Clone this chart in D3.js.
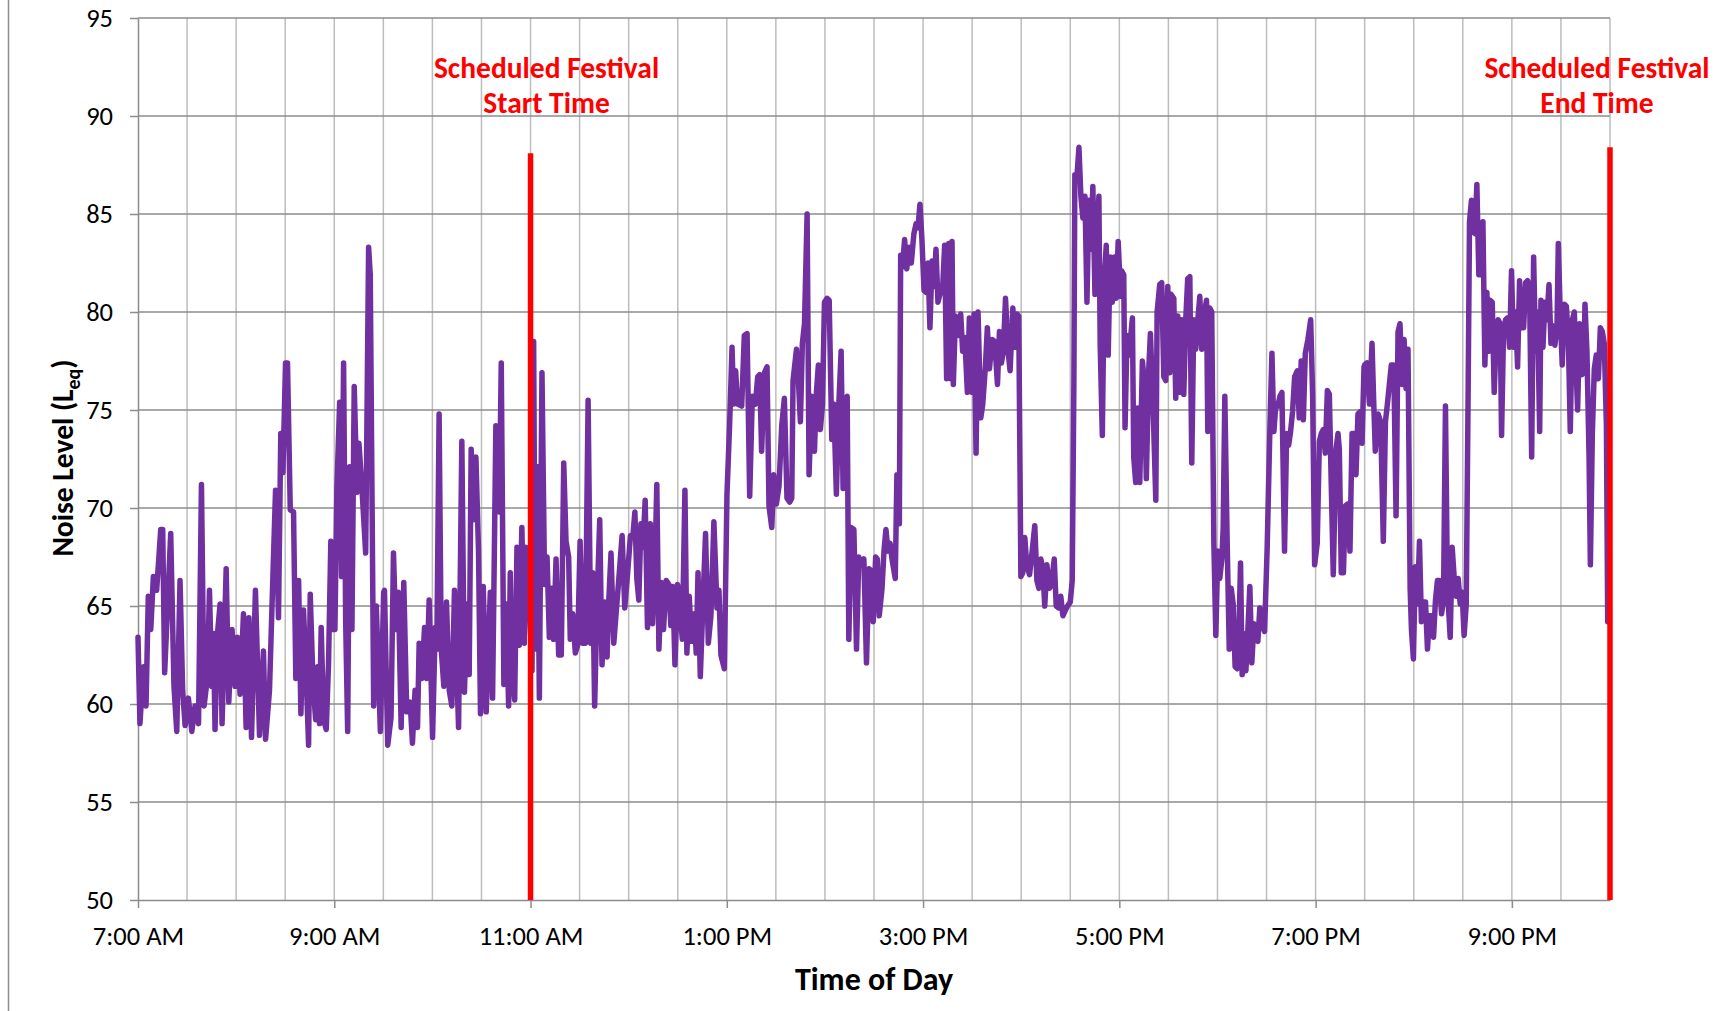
<!DOCTYPE html>
<html>
<head>
<meta charset="utf-8">
<script src="https://cdn.jsdelivr.net/npm/d3@7"></script>
<style>
  body { margin: 0; background: #fff; }
  svg text { font-family: Carlito, Calibri, Lato, sans-serif; }
</style>
</head>
<body>
<div id="chart"></div>
<script>
// Noise readings, [minutes after 7:00 AM, Leq dB]
var block1 = [[0,63.4],[1.2,59.0],[3.3,61.9],[4.9,59.9],[6.3,65.5],[7.8,63.8],[9.4,66.5],[11.4,65.8],[13.9,68.9],[15.1,68.9],[16.3,61.6],[20.0,68.7],[22.0,60.9],[23.7,58.6],[25.7,66.3],[27.3,60.7],[28.8,58.9],[30.8,60.3],[32.9,58.6],[34.9,59.9],[37.0,59.0],[38.8,71.2],[40.4,59.9],[42.4,61.3],[43.7,65.8],[45.1,60.9],[46.1,63.6],[47.1,58.7],[48.6,63.6],[50.2,65.1],[51.4,59.0],[52.6,62.8],[53.9,66.9],[55.5,60.1],[57.5,63.8],[59.4,60.9],[60.8,63.4],[62.4,60.5],[64.5,64.6],[66.1,58.8],[67.8,64.4],[69.4,58.3],[71.8,65.8],[74.3,58.4],[76.7,62.7],[78.0,58.2],[80.4,60.7],[82.4,66.3],[84.1,70.9],[85.9,64.4],[87.3,73.8],[88.6,71.8],[90.2,77.4],[91.4,77.4],[93.1,69.9],[95.1,69.8],[96.5,61.3],[98.2,66.3],[99.6,59.5],[101.2,64.8],[102.9,61.3],[104.3,57.9],[105.3,65.6],[107.0,61.1],[108.6,59.2],[109.8,61.9],[111.0,59.0],[112.0,63.9],[113.5,59.2],[115.1,58.7],[116.5,62.1],[117.9,68.3],[119.2,63.8],[120.4,63.8],[121.6,71.0],[123.3,75.4],[124.5,66.5],[125.7,77.4],[127.0,64.1],[128.2,58.6],[129.4,72.1],[130.8,63.8],[132.2,76.2],[133.9,70.8],[135.1,73.3],[137.0,70.9],[139.2,67.7],[141.0,83.3],[142.0,81.9],[144.1,59.9],[145.7,65.0],[148.2,58.6],[150.2,65.7]];
var block2 = [[150.7,65.8],[152.7,57.9],[154.7,59.3],[156.2,67.7],[157.6,63.8],[159.2,65.7],[160.9,58.8],[162.5,66.2],[164.3,59.6],[166.4,60.1],[167.8,58.0],[169.4,60.7],[170.9,58.8],[171.9,63.1],[173.5,61.3],[175.2,63.9],[176.6,61.3],[178.0,65.3],[180.1,58.3],[181.7,63.9],[182.7,62.8],[184.1,74.8],[185.4,62.8],[187.0,60.9],[188.6,65.2],[190.3,60.7],[191.9,59.9],[193.5,65.8],[194.5,63.0],[196.0,58.8],[198.0,73.4],[199.6,60.6],[201.1,65.1],[202.5,61.5],[203.7,73.0],[205.2,69.4],[206.6,72.6],[208.2,67.8],[209.4,59.5],[211.1,66.0],[212.9,59.6],[215.4,65.7],[216.8,60.3],[218.8,74.2],[220.9,69.8],[222.1,77.4],[223.7,61.0],[225.2,65.1],[226.6,59.9],[227.6,66.7],[228.6,61.7],[230.3,60.2],[231.7,68.0],[233.1,63.0],[234.7,69.0],[236.2,63.1],[237.2,68.0],[239.0,66.0],[240.9,61.7],[241.9,78.5],[242.9,62.8],[244.1,72.1],[245.4,60.3],[247.0,76.9],[248.6,66.1],[250.1,67.5],[251.5,63.4],[253.1,65.9],[254.1,63.3],[255.6,67.4],[257.2,62.5],[258.8,62.5],[260.3,72.3],[261.7,68.3],[263.3,67.5],[264.3,63.3],[265.8,64.6],[267.4,62.6],[268.8,63.0],[270.3,68.3],[271.9,63.1],[273.5,63.1],[275.2,75.5],[276.8,63.1],[278.0,66.7],[279.2,59.9],[280.7,65.2],[282.3,69.4],[283.7,62.0],[285.4,65.2],[286.8,62.4],[287.8,65.2],[289.2,67.7],[290.9,63.1],[292.3,64.6],[294.0,66.4],[296.0,68.6],[297.6,64.9],[299.0,66.3],[301.1,68.6]];
var block3 = [[302.6,68.6],[303.8,69.8],[305.0,66.4],[306.2,65.3],[307.5,69.2],[308.7,68.0],[310.1,70.4],[311.5,63.9],[313.2,69.2],[314.6,64.1],[316.0,66.9],[317.2,71.2],[318.5,62.8],[320.1,66.2],[321.3,63.8],[323.0,66.3],[324.6,66.1],[325.8,64.0],[327.0,66.0],[328.3,62.0],[329.9,66.1],[331.5,64.6],[332.8,63.3],[334.4,70.9],[335.6,62.6],[337.0,65.5],[338.5,63.2],[340.1,64.6],[341.3,62.6],[342.4,66.7],[343.8,61.4],[345.4,65.1],[347.0,68.7],[348.7,63.1],[350.3,64.5],[352.1,69.3],[354.0,64.9],[355.2,65.8],[356.4,62.5],[358.5,61.8],[360.1,70.7],[361.7,74.2],[363.2,78.2],[364.2,75.3],[365.4,77.0],[366.6,75.3],[369.1,75.2],[370.7,78.8],[372.4,78.9],[374.0,70.6],[375.6,75.7],[377.5,75.3],[378.9,76.7],[380.1,76.8],[381.3,72.9],[383.0,76.9],[384.6,77.2],[385.8,70.1],[387.5,69.0],[388.7,71.7],[390.3,70.2],[391.9,71.1],[393.6,74.2],[395.2,75.6],[396.8,70.5],[398.5,70.3],[399.7,70.5],[400.5,76.5],[402.6,78.1],[403.8,76.5],[405.0,74.4],[406.2,78.4],[407.5,79.4],[409.1,85.0],[410.3,71.7],[411.9,75.7],[413.6,72.9],[414.8,75.9],[416.0,77.3],[417.2,74.0],[418.5,75.3],[419.7,80.5],[421.3,80.7],[422.6,80.6],[424.2,73.5],[425.4,75.3],[427.0,70.7],[428.5,75.3],[429.9,78.0],[431.1,71.0],[432.6,75.5],[433.6,75.7],[434.6,63.3],[436.0,69.0],[437.7,68.9],[439.3,62.8],[440.7,67.5],[442.1,67.1],[443.8,67.4],[445.4,62.1],[447.0,66.9],[448.3,66.8],[449.5,64.2],[451.0,67.5]];
var block4 = [[452.0,67.4],[453.2,64.5],[454.9,65.9],[456.1,67.8],[457.3,68.9],[458.5,67.8],[459.8,68.2],[461.0,67.4],[463.0,66.4],[464.0,71.7],[465.5,69.2],[466.3,82.9],[467.5,82.3],[468.7,83.7],[470.0,82.2],[471.6,83.3],[472.8,82.5],[474.4,84.0],[475.7,84.5],[476.9,84.3],[478.1,85.5],[479.3,83.7],[480.6,81.1],[481.8,81.0],[483.0,82.5],[484.2,79.2],[485.5,82.6],[486.7,81.3],[487.9,83.2],[489.1,80.5],[490.6,81.0],[492.0,81.3],[493.2,83.4],[494.4,76.6],[495.7,83.5],[496.9,76.6],[497.7,83.6],[498.5,76.3],[499.8,79.8],[501.4,78.8],[503.0,79.9],[504.2,78.0],[505.5,78.7],[507.1,75.9],[508.3,79.7],[510.0,75.9],[511.2,79.9],[512.4,72.8],[513.6,80.0],[515.3,74.6],[516.5,75.3],[518.1,77.2],[519.3,79.2],[520.6,77.1],[522.2,78.6],[523.8,78.5],[525.5,76.3],[526.7,79.0],[527.9,77.4],[529.1,78.0],[530.4,80.7],[532.0,78.0],[533.2,77.0],[534.9,80.2],[536.1,78.2],[537.3,79.9],[538.5,79.8],[539.8,66.5],[541.0,66.7],[542.2,68.5],[543.4,67.1],[545.1,66.6],[546.7,67.8],[548.3,69.1],[549.6,66.3],[550.8,65.9],[552.0,67.4],[553.2,66.9],[554.4,65.0],[555.7,67.1],[557.3,65.9],[558.5,66.1],[560.2,67.4],[561.4,65.0],[563.0,64.9],[564.2,65.5],[565.5,64.5],[567.1,64.8],[568.3,65.0],[570.0,65.2],[571.2,66.3],[572.2,76.3],[572.8,87.0],[574.0,86.8],[575.3,88.4],[576.5,85.9],[577.7,84.8],[579.0,85.9],[580.2,80.5],[581.4,85.7],[582.6,83.2],[583.8,86.4],[585.1,80.9],[586.3,83.8],[587.5,85.9],[588.3,78.3],[589.6,73.7],[590.8,81.7],[592.0,83.4],[593.2,77.8],[594.4,82.8],[595.7,80.5],[596.9,82.8],[598.1,80.7],[599.3,83.6],[600.8,80.8]];
var block5 = [[601.4,82.1],[602.7,81.9],[603.5,74.1],[604.7,78.8],[605.9,77.8],[608.0,79.7],[608.8,72.6],[610.0,71.3],[611.2,75.1],[612.5,71.3],[614.1,77.5],[615.3,76.4],[616.5,71.5],[618.0,77.1],[619.0,78.9],[620.6,75.3],[622.3,70.4],[623.1,80.0],[624.7,81.4],[625.9,81.5],[627.2,76.7],[628.4,76.5],[629.6,81.3],[630.8,76.9],[631.6,80.9],[633.3,80.7],[634.5,75.6],[635.7,79.8],[636.9,75.9],[638.2,79.6],[639.4,75.8],[640.6,79.6],[641.8,81.7],[643.1,81.8],[644.3,72.3],[645.5,79.6],[646.7,78.1],[648.0,79.6],[649.2,80.8],[650.4,78.1],[651.6,79.8],[653.3,80.6],[654.1,73.9],[655.3,80.2],[656.5,80.0],[657.8,68.2],[659.0,63.5],[660.2,67.8],[661.4,66.4],[662.7,67.4],[663.5,69.0],[664.5,75.7],[665.9,68.4],[667.2,62.8],[668.4,65.9],[669.6,65.1],[670.8,61.9],[672.1,61.8],[673.3,64.3],[674.1,67.2],[675.1,61.5],[676.1,63.6],[677.4,61.7],[678.6,63.8],[679.8,66.0],[681.0,62.1],[682.3,64.1],[683.5,63.3],[684.7,63.2],[685.9,64.9],[687.4,64.0],[688.8,63.7],[690.4,68.0],[692.1,74.2],[693.3,77.9],[694.5,73.9],[695.7,75.3],[696.9,75.2],[698.2,75.7],[699.4,75.9],[701.0,67.8],[702.3,73.8],[703.5,73.2],[704.7,73.9],[705.9,74.9],[707.2,76.7],[708.8,77.0],[710.0,74.6],[711.2,77.5],[712.5,74.5],[713.7,77.9],[715.3,78.6],[717.0,79.6],[718.2,75.7],[719.4,67.1],[721.0,68.2],[722.3,73.4],[723.5,73.8],[724.7,74.0],[725.9,72.8],[727.2,76.0],[728.4,75.8],[729.6,71.1],[730.8,66.6],[732.5,73.0],[733.7,73.8],[734.5,73.0],[735.7,66.7],[737.0,66.7],[738.2,70.1],[739.4,70.2],[741.0,67.8],[742.3,73.8],[743.5,73.8],[744.7,71.7],[745.9,74.8],[747.1,74.9],[748.4,73.3],[749.6,77.2]];
var block6 = [[750.0,77.3],[751.4,77.4],[752.9,75.3],[754.5,78.4],[755.5,75.5],[756.5,72.9],[758.2,74.8],[759.8,74.4],[761.4,68.3],[762.7,74.4],[763.9,75.3],[765.1,76.3],[766.3,77.3],[767.8,77.3],[769.2,69.6],[770.4,79.0],[771.6,79.4],[772.9,76.3],[774.1,78.6],[775.3,76.1],[776.5,78.1],[777.8,65.9],[778.6,63.8],[779.8,62.3],[781.0,67.0],[782.3,65.1],[783.5,68.3],[784.7,64.2],[785.9,65.2],[787.2,65.2],[788.4,62.8],[789.6,64.5],[790.8,64.5],[792.1,63.4],[793.3,65.3],[794.5,66.3],[795.7,66.3],[797.0,64.6],[798.2,65.3],[799.4,75.2],[800.6,65.9],[802.3,63.4],[803.5,68.0],[804.7,66.5],[805.9,65.5],[807.2,66.4],[808.4,65.1],[809.6,65.7],[810.8,63.5],[812.1,65.1],[813.3,76.3],[814.1,84.6],[815.3,85.7],[816.1,84.1],[817.4,84.0],[818.6,86.5],[819.8,81.9],[821.0,81.9],[822.3,84.6],[823.5,77.3],[824.7,81.0],[825.9,78.0],[826.7,80.6],[828.0,80.5],[829.2,75.9],[830.4,78.6],[831.6,79.6],[832.9,79.4],[833.7,73.7],[834.9,79.0],[836.1,79.6],[837.4,79.7],[838.6,78.2],[839.8,82.1],[841.0,78.2],[842.3,80.0],[843.5,77.2],[844.7,81.6],[845.9,79.2],[847.2,79.2],[848.4,81.5],[849.6,81.6],[850.8,81.3],[852.1,72.6],[853.3,82.8],[854.5,78.0],[855.7,80.0],[857.0,73.9],[857.8,80.6],[859.0,78.2],[860.2,80.5],[861.4,79.6],[862.7,81.4],[863.9,78.4],[865.1,79.3],[866.3,78.3],[867.6,79.3],[868.4,83.5],[869.6,79.8],[870.8,77.3],[872.1,80.4],[873.3,80.3],[874.5,78.8],[875.7,73.9],[877.0,79.6],[878.2,80.0],[879.4,76.8],[880.2,75.0],[881.4,79.4],[882.7,76.8],[883.9,76.9],[884.7,80.4],[885.9,78.0],[887.2,72.6],[888.0,67.1],[889.2,73.8],[890.4,77.1],[891.6,77.8],[892.9,76.6],[894.1,79.2],[895.3,79.0],[896.5,78.4],[897.8,74.2],[898.6,64.2]];

// axis ticks (minutes after 7:00 AM) and their labels
var xTickMinutes = [0, 120, 240, 360, 480, 600, 720, 840];
var xTickLabels = ["7:00 AM", "9:00 AM", "11:00 AM", "1:00 PM", "3:00 PM", "5:00 PM", "7:00 PM", "9:00 PM"];
var yTicks = [50, 55, 60, 65, 70, 75, 80, 85, 90, 95];

// festival markers: time, top of the red line, label lines
var markTimes = [240, 900];
var markTops = [88.1, 88.4];
var markLabels = [["Scheduled Festival", "Start Time"], ["Scheduled Festival", "End Time"]];

var data = [].concat(block1, block2, block3, block4, block5, block6)
  .map(function(d) { return {t: d[0], v: d[1]}; });

// set dimensions and margins
var margin = {top: 18, right: 124, bottom: 111, left: 138},
  width = 1734 - margin.left - margin.right,
  height = 1011 - margin.top - margin.bottom;

var root = d3.select("#chart")
  .append("svg")
    .attr("width", 1734)
    .attr("height", 1011);

// outer chart border (only the left edge shows)
root.append("line")
  .attr("x1", 8.5).attr("x2", 8.5)
  .attr("y1", 0).attr("y2", 1011)
  .attr("stroke", "#8c8c8c")
  .attr("stroke-width", 1.5);

var svg = root.append("g")
  .attr("transform", "translate(" + margin.left + "," + margin.top + ")");

var x = d3.scaleLinear()
  .domain([0, 900])
  .range([0, width]);

var y = d3.scaleLinear()
  .domain([50, 95])
  .range([height, 0]);

// vertical gridlines every half hour
svg.append("g")
  .selectAll("line")
  .data(d3.range(30, 901, 30))
  .enter().append("line")
    .attr("x1", function(d) { return x(d); })
    .attr("x2", function(d) { return x(d); })
    .attr("y1", 0)
    .attr("y2", height)
    .attr("stroke", "#bdbdbd")
    .attr("stroke-width", 1.5);

// horizontal gridlines
svg.append("g")
  .selectAll("line")
  .data(yTicks.slice(1))
  .enter().append("line")
    .attr("x1", 0)
    .attr("x2", width)
    .attr("y1", function(d) { return y(d); })
    .attr("y2", function(d) { return y(d); })
    .attr("stroke", "#8c8c8c")
    .attr("stroke-width", 1.5);

// Add Y axis
var yAxis = svg.append("g")
  .call(d3.axisLeft(y).tickValues(yTicks).tickSize(8).tickSizeOuter(0).tickPadding(17));
yAxis.select(".domain").attr("stroke", "#8c8c8c").attr("stroke-width", 1.5);
yAxis.selectAll(".tick line").attr("stroke", "#8c8c8c").attr("stroke-width", 1.5);
yAxis.selectAll("text")
  .style("font-size", "26.5px")
  .attr("fill", "#000");

// Add X axis
var xAxis = svg.append("g")
  .attr("transform", "translate(0," + height + ")")
  .call(d3.axisBottom(x)
    .tickValues(xTickMinutes)
    .tickFormat(function(d, i) { return xTickLabels[i]; })
    .tickSize(8).tickSizeOuter(0).tickPadding(18));
xAxis.select(".domain").attr("stroke", "#8c8c8c").attr("stroke-width", 1.5);
xAxis.selectAll(".tick line").attr("stroke", "#8c8c8c").attr("stroke-width", 1.5);
xAxis.selectAll("text")
  .style("font-size", "26.5px")
  .attr("fill", "#000");

// noise line
svg.append("path")
  .datum(data)
  .attr("fill", "none")
  .attr("stroke", "#7030a0")
  .attr("stroke-width", 5.5)
  .attr("stroke-linejoin", "round")
  .attr("stroke-linecap", "round")
  .attr("d", d3.line()
    .x(function(d) { return x(d.t); })
    .y(function(d) { return y(d.v); })
  );

// festival start / end markers
markTimes.forEach(function(t, i) {
  svg.append("line")
    .attr("x1", x(t)).attr("x2", x(t))
    .attr("y1", y(50)).attr("y2", y(markTops[i]))
    .attr("stroke", "#ff0000")
    .attr("stroke-width", 5.5);

  var cx = i == 0 ? x(t) + 16 : x(t) - 13;
  var label = svg.append("text")
    .attr("text-anchor", "middle")
    .attr("fill", "#ff0000")
    .style("font-size", "29.5px")
    .style("font-weight", "bold");
  markLabels[i].forEach(function(s, j) {
    label.append("tspan")
      .attr("x", cx)
      .attr("y", 60 + j * 35)
      .text(s);
  });
});

// X axis label
svg.append("text")
  .attr("x", 736)
  .attr("y", height + 90)
  .attr("text-anchor", "middle")
  .style("font-size", "32px")
  .style("font-weight", "bold")
  .text("Time of Day");

// Y axis label
var ylab = svg.append("text")
  .attr("transform", "translate(" + (73 - margin.left) + "," + (458 - margin.top) + ") rotate(-90)")
  .attr("text-anchor", "middle")
  .style("font-size", "29.5px")
  .style("font-weight", "bold");
ylab.append("tspan").text("Noise Level (L");
ylab.append("tspan").attr("dy", 7).style("font-size", "20px").text("eq");
ylab.append("tspan").attr("dy", -7).text(")");
</script>
</body>
</html>
